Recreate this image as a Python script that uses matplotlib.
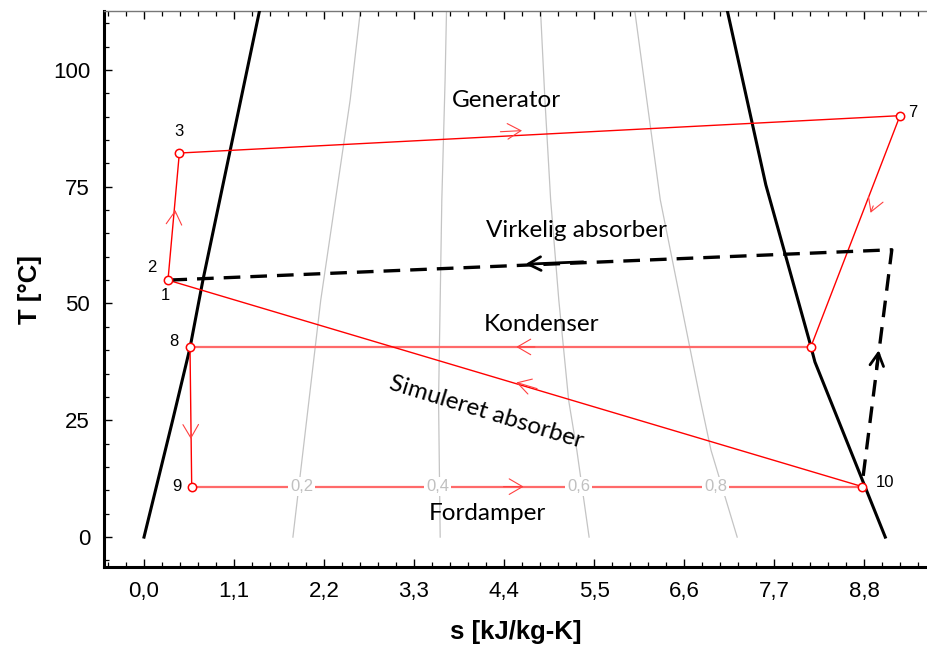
import matplotlib
matplotlib.use("Agg")
import matplotlib.pyplot as plt
from matplotlib.ticker import MultipleLocator, FuncFormatter

# saturation curves (s in kJ/kg-K, T in degC)
left_sat_s = [0.0, 0.35, 0.562, 0.72, 1.44]
left_sat_T = [0.0, 25.0, 40.5, 55.0, 115.0]
right_sat_s = [7.10, 7.60, 8.14, 8.20, 9.06]
right_sat_T = [115.0, 75.4, 41.5, 37.5, 0.0]

# quality lines
q_labels = ["0,2", "0,4", "0,6", "0,8"]
q02_s = [1.82, 2.16, 2.52, 2.66]
q02_T = [0.0, 50.7, 93.6, 115.0]
q04_s = [3.62, 3.60, 3.64, 3.68, 3.70]
q04_T = [0.0, 29.3, 72.2, 97.9, 115.0]
q06_s = [5.44, 5.29, 5.19, 5.07, 4.97, 4.90, 4.84]
q06_T = [0.0, 18.6, 29.3, 50.7, 72.2, 93.6, 115.0]
q08_s = [7.25, 6.93, 6.80, 6.31, 5.98]
q08_T = [0.0, 18.6, 29.3, 72.2, 115.0]
q_label_s = [1.93, 3.59, 5.31, 6.99]
q_label_T = 10.8

# cycle state points
state_names = ["1", "3", "7", "R", "8", "9", "10"]
state_s = [0.293, 0.432, 9.24, 8.15, 0.562, 0.583, 8.78]
state_T = [55.0, 82.2, 90.2, 40.7, 40.7, 10.8, 10.8]

# point labels
pt_labels = ["1", "2", "3", "7", "8", "9", "10"]
pt_label_s = [0.257, 0.10, 0.43, 9.40, 0.367, 0.40, 9.06]
pt_label_T = [51.8, 57.6, 86.8, 90.8, 41.8, 10.8, 11.6]

# red arrow tips along each cycle segment
arrow_tip_s = [0.382, 4.62, 8.88, 4.55, 0.573, 4.64, 4.55]
arrow_tip_T = [70.0, 87.0, 69.4, 40.7, 21.0, 10.8, 33.1]

# real absorber path (dashed)
dash_s = [8.79, 9.14, 0.293]
dash_T = [13.1, 61.5, 55.0]
dash_arrow_s = [8.98, 4.66]
dash_arrow_T = [40.0, 58.4]

# process labels
proc_text = ["Generator", "Virkelig absorber", "Kondenser", "Simuleret absorber", "Fordamper"]
proc_s = [4.43, 5.29, 4.86, 4.18, 4.20]
proc_T = [93.4, 65.7, 45.4, 26.8, 5.1]
proc_rot = [0, 0, 0, -17, 0]

fig = plt.figure(figsize=(9.27, 6.45), dpi=100)
ax = fig.add_axes([104 / 927, 78 / 645, 823 / 927, 556 / 645])

# quality lines
for qs, qT in [(q02_s, q02_T), (q04_s, q04_T), (q06_s, q06_T), (q08_s, q08_T)]:
    ax.plot(qs, qT, color="#c4c4c4", lw=0.9, zorder=1)

# saturation dome
ax.plot(left_sat_s, left_sat_T, color="black", lw=2.2, zorder=3)
ax.plot(right_sat_s, right_sat_T, color="black", lw=2.2, zorder=3)

# cycle
order = [0, 1, 2, 3, 4, 5, 6, 0]
seg_colors = ["red", "red", "red", "#ff6a6a", "red", "#ff6a6a", "red"]
seg_lw = [1.0, 1.0, 1.0, 1.6, 1.0, 1.6, 1.0]
for i in range(7):
    a, b = order[i], order[i + 1]
    ax.plot([state_s[a], state_s[b]], [state_T[a], state_T[b]],
            color=seg_colors[i], lw=seg_lw[i], zorder=4)
    ds = state_s[b] - state_s[a]
    dT = state_T[b] - state_T[a]
    tip = (arrow_tip_s[i], arrow_tip_T[i])
    tail = (tip[0] - 0.03 * ds, tip[1] - 0.03 * dT)
    ax.annotate("", xy=tip, xytext=tail,
                arrowprops=dict(arrowstyle="->,head_length=0.6,head_width=0.35",
                                mutation_scale=16, color="#ff4040", lw=0.8,
                                shrinkA=0, shrinkB=0),
                zorder=5)

# quality labels over the evaporator line
for lab, qs in zip(q_labels, q_label_s):
    ax.text(qs, q_label_T, lab, color="#c0c0c0", fontsize=12, ha="center", va="center",
            family="Liberation Sans",
            bbox=dict(facecolor="white", edgecolor="none", pad=1.5), zorder=6)

# dashed real absorber
ax.plot(dash_s, dash_T, color="black", lw=2.4, ls=(0, (5, 3)), zorder=4)
for k in range(2):
    a, b = k, k + 1
    ds = dash_s[b] - dash_s[a]
    dT = dash_T[b] - dash_T[a]
    tip = (dash_arrow_s[k], dash_arrow_T[k])
    tail = (tip[0] - 0.08 * ds, tip[1] - 0.08 * dT)
    ax.annotate("", xy=tip, xytext=tail,
                arrowprops=dict(arrowstyle="->,head_length=0.65,head_width=0.35",
                                mutation_scale=14, color="black", lw=2.0,
                                shrinkA=0, shrinkB=0),
                zorder=5)

# state markers
ax.plot(state_s, state_T, "o", ms=6, mfc="white", mec="red", mew=1.1, ls="none", zorder=7)

for lab, s, T in zip(pt_labels, pt_label_s, pt_label_T):
    ax.text(s, T, lab, fontsize=12, ha="center", va="center", family="Liberation Sans", zorder=8)

for txt, s, T, r in zip(proc_text, proc_s, proc_T, proc_rot):
    ax.text(s, T, txt, fontsize=17.5, ha="center", va="center", rotation=r,
            rotation_mode="anchor", family="Lato", zorder=8)

ax.set_xlim(-0.489, 9.57)
ax.set_ylim(-6.4, 112.6)

ax.xaxis.set_major_locator(MultipleLocator(1.1))
ax.xaxis.set_minor_locator(MultipleLocator(0.22))
ax.yaxis.set_major_locator(MultipleLocator(25))
ax.yaxis.set_minor_locator(MultipleLocator(5))
ax.xaxis.set_major_formatter(FuncFormatter(lambda v, p: f"{v:.1f}".replace(".", ",")))
ax.yaxis.set_major_formatter(FuncFormatter(lambda v, p: f"{v:.0f}"))

ax.tick_params(axis="both", which="both", direction="in", top=True, right=False)
ax.tick_params(which="major", length=6, width=1.0, labelsize=16, pad=10)
ax.tick_params(which="minor", length=3.5, width=0.9)
for lab in ax.get_xticklabels() + ax.get_yticklabels():
    lab.set_family("Liberation Sans")

ax.spines["right"].set_visible(False)
ax.spines["top"].set_color("#777777")
ax.spines["top"].set_linewidth(1.0)
ax.spines["left"].set_linewidth(2.2)
ax.spines["bottom"].set_linewidth(2.2)

ax.set_xlabel("s [kJ/kg-K]", fontsize=18.5, fontweight="bold", family="Liberation Sans", labelpad=13)
ax.set_ylabel("T [°C]", fontsize=18.5, fontweight="bold", family="Liberation Sans", labelpad=8)

plt.savefig("out.png", dpi=100)
plt.close()
